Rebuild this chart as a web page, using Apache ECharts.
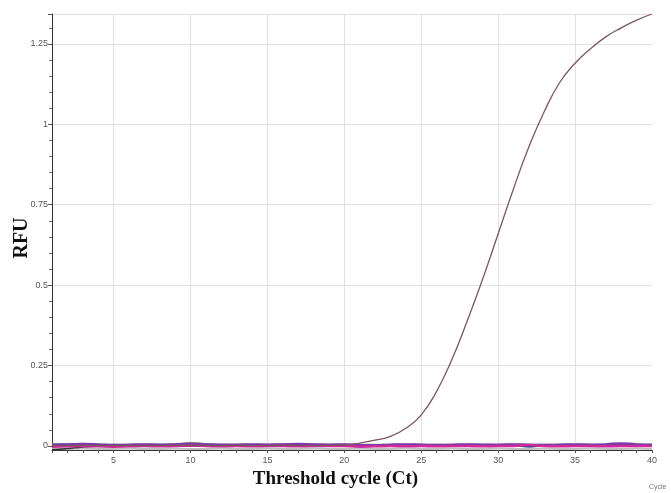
<!DOCTYPE html>
<html>
<head>
<meta charset="utf-8">
<script src="https://cdn.jsdelivr.net/npm/echarts@6/dist/echarts.min.js"></script>
<style>
  html, body { margin: 0; padding: 0; background: #fff; }
  #mainChart { width: 671px; height: 493px; }
</style>
</head>
<body>
<div id="mainChart"></div>
<script>
// 横轴：循环数
var cycles = []
for (var c = 1; c <= 40; c++) cycles.push(c)
var xLabels = [5, 10, 15, 20, 25, 30, 35, 40]
var yLabels = [0, 0.25, 0.5, 0.75, 1, 1.25]

// 扩增曲线
var ampCurve = [0.001, 0.001, 0.002, 0.001, 0.001, 0.002, 0.001, 0.001, 0.002, 0.002,
  0.001, 0.001, 0.002, 0.001, 0.001, 0.002, 0.001, 0.001, 0.002, 0.003,
  0.009, 0.018, 0.03, 0.055, 0.097, 0.17, 0.27, 0.39, 0.52, 0.66,
  0.80, 0.93, 1.04, 1.13, 1.19, 1.235, 1.272, 1.30, 1.324, 1.343]

// 阴性样本基线
var basePurple = [0.004, 0.005, 0.006, 0.005, 0.003, 0.004, 0.005, 0.004, 0.005, 0.007,
  0.005, 0.004, 0.004, 0.005, 0.004, 0.005, 0.006, 0.005, 0.004, 0.005,
  0.003, 0.002, 0.004, 0.005, 0.004, 0.003, 0.004, 0.005, 0.004, 0.004,
  0.005, 0.004, 0.003, 0.004, 0.005, 0.004, 0.005, 0.008, 0.005, 0.004]
var baseMagenta = [-0.002, -0.001, 0.000, -0.001, -0.002, -0.001, 0.000, -0.001, 0.000, 0.001,
  0.000, -0.001, 0.000, -0.001, 0.000, 0.000, -0.001, 0.000, 0.000, 0.000,
  -0.002, -0.001, 0.000, -0.001, 0.000, -0.001, 0.000, 0.000, -0.001, 0.000,
  0.000, 0.003, 0.000, -0.001, 0.000, 0.000, -0.001, 0.000, 0.000, 0.000]
var baseBlue = [0.002, 0.002, 0.003, 0.002, 0.001, 0.002, 0.002, 0.001, 0.002, 0.003,
  0.002, 0.002, 0.001, 0.002, 0.002, 0.003, 0.005, 0.004, 0.002, 0.002,
  0.001, 0.002, 0.002, 0.001, 0.002, 0.002, 0.001, 0.002, 0.002, 0.001,
  0.002, -0.002, 0.002, 0.002, 0.001, 0.002, 0.002, 0.003, 0.002, 0.002]
var baseGreen = [0.006, 0.007, 0.006, 0.005, 0.005, 0.004, 0.005, 0.005, 0.006, 0.010,
  0.007, 0.005, 0.005, 0.004, 0.005, 0.006, 0.005, 0.004, 0.005, 0.005,
  0.004, 0.005, 0.005, 0.004, 0.005, 0.005, 0.004, 0.005, 0.005, 0.004,
  0.005, 0.004, 0.005, 0.005, 0.004, 0.005, 0.005, 0.004, 0.005, 0.005]
var baseOrange = [0.001, 0.000, 0.001, 0.001, 0.000, 0.001, 0.000, 0.001, 0.001, 0.002,
  0.001, 0.000, 0.001, 0.001, 0.000, 0.005, 0.004, 0.001, 0.000, 0.001,
  0.000, 0.001, 0.001, 0.000, 0.001, 0.000, 0.001, 0.001, 0.000, 0.001,
  0.000, 0.001, 0.001, 0.000, 0.001, 0.000, 0.001, 0.001, 0.000, 0.001]
var baseBlack = [-0.012, -0.008, -0.003, 0.000, 0.001, 0.000, 0.001, 0.001, 0.000, 0.004,
  0.001, 0.000, 0.001, 0.000, 0.001, 0.000, 0.001, 0.000, 0.001, 0.000,
  0.000, 0.001, 0.000, 0.001, 0.000, 0.001, 0.000, 0.000, 0.001, 0.000,
  0.001, 0.000, 0.000, 0.001, 0.000, 0.000, 0.001, 0.000, 0.001, 0.000]
var baseGray = [-0.009, -0.009, -0.008, -0.009, -0.009, -0.008, -0.009, -0.009, -0.008, -0.009,
  -0.009, -0.008, -0.009, -0.009, -0.008, -0.009, -0.009, -0.008, -0.009, -0.009,
  -0.008, -0.009, -0.009, -0.008, -0.009, -0.009, -0.008, -0.009, -0.009, -0.008,
  -0.009, -0.009, -0.008, -0.009, -0.009, -0.008, -0.009, -0.009, -0.008, -0.009]

function pairs (arr) {
  return arr.map(function (v, i) { return [cycles[i], v] })
}

function baseLine (data, color, width) {
  return {
    type: 'line',
    data: pairs(data),
    showSymbol: false,
    smooth: true,
    clip: false,
    silent: true,
    z: 3,
    lineStyle: { color: color, width: width }
  }
}

var chartReport = echarts.init(document.getElementById('mainChart'))

var series = [
  {
    // 竖向网格线，放在最底层
    type: 'line',
    data: [],
    z: 1,
    silent: true,
    markLine: {
      silent: true,
      z: 1,
      symbol: 'none',
      label: { show: false },
      lineStyle: { color: '#e2e2e2', width: 1, type: 'solid' },
      data: xLabels.slice(0, 7).map(function (v) { return { xAxis: v } })
    }
  },
  baseLine(baseGray, '#bdbdbd', 2),
  baseLine(baseGreen, '#7ab07a', 1.5),
  baseLine(baseOrange, '#e0a030', 1.5),
  baseLine(baseBlue, '#3a5ad0', 2),
  baseLine(baseBlack, '#333333', 1.5),
  baseLine(basePurple, '#7a3aa8', 2.5),
  baseLine(baseMagenta, '#d02a9a', 2.5),
  {
    type: 'line',
    data: pairs(ampCurve),
    showSymbol: false,
    smooth: true,
    clip: false,
    z: 4,
    lineStyle: { color: '#7d5560', width: 1.3 }
  }
]

var option = {
  animation: false,
  grid: { left: 52, right: 19, top: 14, bottom: 47, outerBoundsMode: 'none', containLabel: false },
  xAxis: {
    type: 'value',
    min: 1,
    max: 40,
    interval: 1,
    offset: 4,
    axisLine: { onZero: false, lineStyle: { color: '#333', width: 1 } },
    axisTick: { show: true, length: 3, lineStyle: { color: '#555' } },
    axisLabel: {
      color: '#555',
      fontSize: 9,
      fontFamily: 'Liberation Sans',
      margin: 6,
      formatter: function (v) { return xLabels.indexOf(v) >= 0 ? String(v) : '' }
    },
    splitLine: { show: false }
  },
  yAxis: {
    type: 'value',
    min: 0,
    max: 1.343,
    interval: 0.25,
    axisLine: { show: true, lineStyle: { color: '#333', width: 1 } },
    axisTick: { show: true, length: 4, lineStyle: { color: '#555' } },
    minorTick: { show: true, splitNumber: 5, length: 3, lineStyle: { color: '#777' } },
    axisLabel: {
      color: '#555',
      fontSize: 9,
      fontFamily: 'Liberation Sans',
      margin: 4,
      showMaxLabel: false,
      formatter: function (v) {
        for (var i = 0; i < yLabels.length; i++) {
          if (Math.abs(yLabels[i] - v) < 1e-6) return String(yLabels[i])
        }
        return ''
      }
    },
    splitLine: { show: true, lineStyle: { color: '#e2e2e2', width: 1 } }
  },
  graphic: [
    {
      type: 'text',
      x: 22,
      y: 238,
      rotation: Math.PI / 2,
      style: {
        text: 'RFU',
        font: 'bold 20px "Liberation Serif"',
        fill: '#111',
        align: 'center',
        verticalAlign: 'middle'
      }
    },
    {
      type: 'text',
      left: 'center',
      top: 470,
      style: {
        text: 'Threshold cycle (Ct)',
        font: 'bold 19px "Liberation Serif"',
        fill: '#111'
      }
    },
    {
      type: 'text',
      left: 649,
      top: 484,
      style: { text: 'Cycle', font: '7px "Liberation Sans"', fill: '#777' }
    }
  ],
  series: series
}

chartReport.setOption(option)
</script>
</body>
</html>
